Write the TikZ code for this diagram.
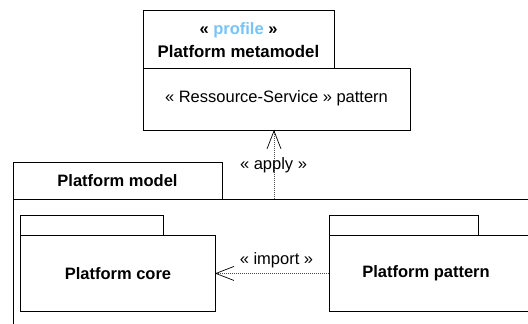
\documentclass[tikz,border=0pt]{standalone}
\usepackage{fontspec}
\setmainfont{Liberation Sans}
\definecolor{profblue}{RGB}{120,195,250}
\tikzset{
  box/.style={draw=black, line width=0.9pt, rectangle, anchor=north west, inner sep=0pt, align=center, font=\fontsize{16.5}{20}\selectfont},
  lbl/.style={inner sep=0pt, font=\fontsize{16.5}{20}\selectfont},
  dep/.style={draw=black!70, line width=0.6pt, dash pattern=on 1pt off 1pt},
  barb/.style={draw=black, line width=0.7pt},
}
\begin{document}
\begin{tikzpicture}[x=1pt, y=-1pt]
\useasboundingbox (0,0) rectangle (528,324);
\clip (0,0) rectangle (528,324);
\fill[white] (0,0) rectangle (528,324);
% profile
\node[box, minimum width=267pt, minimum height=62pt] (mmbody) at (143,68) {};
\node[box, minimum width=191pt, minimum height=58pt] (mmtab) at (143,10) {};
\node[lbl, font=\fontsize{16.5}{20}\bfseries] (mmst) at (238.5,30) {« \textcolor{profblue}{profile} »};
\node[lbl, font=\fontsize{16.8}{20}\bfseries] (mmname) at (238.5,51) {Platform metamodel};
\node[lbl] (mmtext) at (276.5,98) {« Ressource-Service » pattern};
% platform model
\node[box, minimum width=560pt, minimum height=160pt] (pmbody) at (13,199) {};
\node[box, minimum width=209pt, minimum height=37pt] (pmtab) at (13,162) {};
\node[lbl, font=\fontsize{16.5}{20}\bfseries] (pmname) at (117.5,181) {Platform model};
% platform core
\node[box, minimum width=143pt, minimum height=20pt] (pctab) at (20,215) {};
\node[box, minimum width=195pt, minimum height=76pt] (pcbody) at (20,235) {};
\node[lbl, font=\fontsize{16.5}{20}\bfseries] (pcname) at (pcbody.center) {Platform core};
% platform pattern
\node[box, minimum width=149pt, minimum height=20pt] (pptab) at (329,215) {};
\node[box, minimum width=240pt, minimum height=76pt] (ppbody) at (329,235) {};
\node[lbl, font=\fontsize{16.5}{20}\bfseries] (ppname) at (426,273) {Platform pattern};
% apply
\coordinate (applyfrom) at (274,199);
\coordinate (applyto) at (applyfrom |- mmbody.south);
\draw[dep] (applyfrom) -- (applyto);
\draw[barb] (applyto) ++(-7,18) -- (applyto) -- ++(7,18);
\node[lbl] (applylbl) at (273.5,165) {« apply »};
% import
\coordinate (importfrom) at (ppbody.west |- pcbody.east);
\draw[dep] (importfrom) -- (pcbody.east);
\draw[barb] (pcbody.east) ++(18,-7) -- (pcbody.east) -- ++(18,7);
\node[lbl] (importlbl) at (276.5,260) {« import »};
\end{tikzpicture}
\end{document}
